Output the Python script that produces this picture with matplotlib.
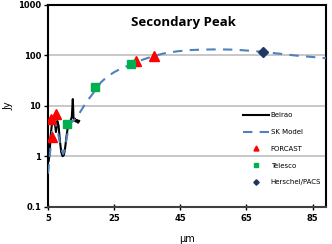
import matplotlib
matplotlib.use("Agg")
import matplotlib.pyplot as plt

# Beirao spectrum
beirao_x = [5.2, 5.5, 5.8, 6.2, 6.6, 7.0, 7.4, 7.8, 8.2, 8.6, 9.0, 9.4, 9.8, 10.2, 10.6, 11.0,
            11.4, 11.8, 12.2, 12.5, 12.7, 12.9, 13.2, 13.5, 13.8, 14.1, 14.4]
beirao_y = [0.8, 1.2, 2.5, 4.5, 5.5, 5.0, 3.0, 5.0, 4.0, 2.0, 1.2, 1.0, 1.05, 1.5, 2.5, 3.8,
            4.5, 5.0, 6.0, 13.5, 6.0, 5.0, 5.5, 4.8, 5.2, 4.6, 5.0]

# SK model
model_x = [5.0, 5.4, 5.8, 6.2, 6.6, 7.0, 7.5, 8.0, 8.5, 9.0, 9.6, 10.2, 10.8, 11.4, 12.0, 13.0,
           14.0, 15.0, 16.5, 18.0, 19.5, 21.0, 23.0, 25.0, 27.0, 29.0, 31.0, 34.0, 37.0, 40.0,
           44.0, 48.0, 52.0, 56.0, 60.0, 64.0, 68.0, 72.0, 76.0, 80.0, 84.0, 89.0]
model_y = [0.45, 0.8, 1.6, 3.0, 4.5, 5.0, 4.0, 3.0, 2.0, 1.4, 1.1, 1.5, 2.6, 3.8, 4.6, 5.3,
           6.3, 8.0, 11.5, 15.5, 21, 29, 38, 46, 54, 61, 70, 83, 96, 108,
           119, 126, 129, 130, 129, 125, 119, 112, 105, 98, 93, 87]

forcast_x = [6.0, 7.3, 6.2, 31.5, 37.0]
forcast_y = [5.4, 6.8, 2.4, 76, 95]

telesco_x = [10.8, 19.1, 30.0]
telesco_y = [4.4, 23, 67]

pacs_x = [70.0]
pacs_y = [114]

x_ticks = [5, 25, 45, 65, 85]
y_ticks = [0.1, 1, 10, 100, 1000]
y_tick_labels = ["0.1", "1", "10", "100", "1000"]

fig = plt.figure(figsize=(3.32, 2.44), dpi=100)
ax = fig.add_axes([0.1446, 0.153, 0.837, 0.828])

ax.set_yscale("log")
ax.set_xlim(5, 89)
ax.set_ylim(0.1, 1000)

for yv in [1, 10, 100]:
    ax.axhline(yv, color="#bfbfbf", lw=1.2, zorder=0)

ax.plot(beirao_x, beirao_y, color="black", lw=1.5, label="Beirao", zorder=2)
ax.plot(model_x, model_y, color="#4f81bd", lw=1.5, ls=(0, (4.5, 3.5)), label="SK Model", zorder=3)
ax.plot(forcast_x, forcast_y, ls="none", marker="^", color="#ff0000", ms=6.5, label="FORCAST", zorder=4)
ax.plot(telesco_x, telesco_y, ls="none", marker="s", color="#00b050", ms=5.5, label="Telesco", zorder=4)
ax.plot(pacs_x, pacs_y, ls="none", marker="D", color="#1f3864", ms=5, label="Herschel/PACS", zorder=4)

ax.set_xticks(x_ticks)
ax.set_xticklabels([str(v) for v in x_ticks], fontsize=6, fontweight="bold")
ax.set_yticks(y_ticks)
ax.set_yticklabels(y_tick_labels, fontsize=6, fontweight="bold")
ax.minorticks_off()
ax.tick_params(axis="x", direction="inout", length=4, width=1, pad=3)
ax.tick_params(axis="y", direction="out", length=3, width=1, pad=2)

for s in ["left", "top", "right"]:
    ax.spines[s].set_color("black")
    ax.spines[s].set_linewidth(1.5)
ax.spines["bottom"].set_color("#404040")
ax.spines["bottom"].set_linewidth(1.5)

ax.text(0.486, 0.91, "Secondary Peak", transform=ax.transAxes, ha="center", va="center",
        fontsize=9.5, fontweight="bold", family="Open Sans")

ax.set_ylabel("Jy", fontsize=7, labelpad=3)
ax.set_xlabel("µm", fontsize=7, labelpad=8)

leg = ax.legend(loc="lower right", bbox_to_anchor=(1.005, 0.075), frameon=False, fontsize=5,
                handlelength=3.8, labelspacing=1.55, handletextpad=0.2, markerscale=0.55)

fig.savefig("out.png", dpi=100)
